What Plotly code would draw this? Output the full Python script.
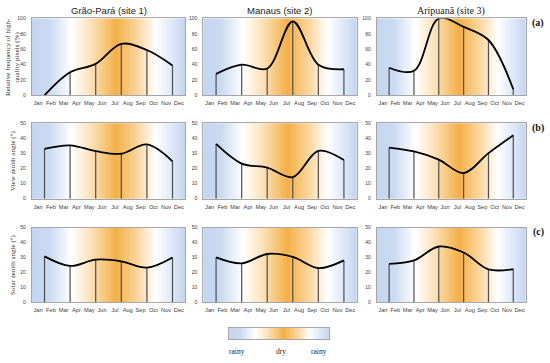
import numpy as np
import plotly.graph_objects as go

# ---------------- data ----------------
months = ["Jan", "Feb", "Mar", "Apr", "May", "Jun", "Jul", "Aug", "Sep", "Oct", "Nov", "Dec"]
acq_x = [0.5, 2.5, 4.5, 6.5, 8.5, 10.5]          # acquisition positions on the month axis
site_names = ["Grão-Pará (site 1)", "Manaus (site 2)", "Aripuanã (site 3)"]

freq_site1 = [0, 30, 41, 67, 59, 39]
freq_site2 = [28, 40, 35, 96, 40, 34]
freq_site3 = [36, 32, 100, 89, 72, 8]

vza_site1 = [33, 35.4, 31.5, 29.8, 36, 24.8]
vza_site2 = [36.3, 23.3, 20.6, 14.3, 31.7, 25.6]
vza_site3 = [33.9, 31.3, 25.9, 17, 30.2, 42]

sza_site1 = [30.7, 24.3, 28.5, 27.4, 23.2, 30]
sza_site2 = [30, 26, 32.3, 30.3, 22.8, 28]
sza_site3 = [25.7, 28, 37.3, 33.3, 22, 22.2]

row_titles = ["Relative frequency of high-<br>quality pixels (%)", "View zenith angle (°)", "Solar zenith angle (°)"]
row_tags = ["(a)", "(b)", "(c)"]
row_max = [100, 50, 50]
row_dtick = [20, 10, 10]
season_labels = ["rainy", "dry", "rainy"]

rows = [
    [freq_site1, freq_site2, freq_site3],
    [vza_site1, vza_site2, vza_site3],
    [sza_site1, sza_site2, sza_site3],
]

# ---------------- layout geometry ----------------
W, H = 550, 363
col_px = [(31.7, 185.3), (203.3, 356.7), (376.7, 525.7)]
row_px = [(15.7, 94.0), (122.3, 199.0), (228.3, 304.3)]

def xdom(p):
    return [p[0] / W, p[1] / W]

def ydom(p):
    return [1 - p[1] / H, 1 - p[0] / H]

# season gradient colourscale (position along month axis -> colour)
x0, x1 = -0.5, 11.5
stops = [
    (-0.5, "rgb(196,213,240)"),
    (0.9, "rgb(202,218,242)"),
    (2.6, "rgb(255,255,255)"),
    (4.2, "rgb(251,224,182)"),
    (6.1, "rgb(244,176,72)"),
    (7.8, "rgb(250,214,160)"),
    (9.2, "rgb(255,255,255)"),
    (11.5, "rgb(196,213,240)"),
]
cscale = [[(s - x0) / (x1 - x0), c] for s, c in stops]
grid = np.linspace(x0, x1, 241)

fig = go.Figure()
BORDER = "#a6a6a6"
tick_font = dict(family="Liberation Sans", size=5.7, color="#404040")

k = 0
for r in range(3):
    for c in range(3):
        k += 1
        xa = "x" if k == 1 else f"x{k}"
        ya = "y" if k == 1 else f"y{k}"
        vals = rows[r][c]
        ymax = row_max[r]
        # background gradient
        fig.add_trace(go.Heatmap(
            x=grid, y=[0, ymax], z=[grid, grid], colorscale=cscale,
            zmin=x0, zmax=x1, showscale=False, hoverinfo="skip",
            xaxis=xa, yaxis=ya))
        # drop lines
        lx, ly = [], []
        for xv, yv in zip(acq_x, vals):
            lx += [xv, xv, None]
            ly += [0, yv, None]
        fig.add_trace(go.Scatter(x=lx, y=ly, mode="lines",
                                 line=dict(color="#4d4d4d", width=1.2),
                                 hoverinfo="skip", showlegend=False,
                                 xaxis=xa, yaxis=ya))
        # smoothed curve
        fig.add_trace(go.Scatter(x=acq_x, y=vals, mode="lines",
                                 line=dict(color="black", width=1.8, shape="spline", smoothing=1),
                                 showlegend=False, xaxis=xa, yaxis=ya))
        xk = "xaxis" if k == 1 else f"xaxis{k}"
        yk = "yaxis" if k == 1 else f"yaxis{k}"
        fig.layout[xk] = dict(domain=xdom(col_px[c]), anchor=ya, range=[x0, x1],
                              tickvals=list(range(12)), ticktext=months, tickangle=0,
                              tickfont=tick_font, ticks="", showgrid=False, zeroline=False,
                              showline=True, linecolor=BORDER, linewidth=1, mirror=True,
                              ticklabelstandoff=2)
        fig.layout[yk] = dict(domain=ydom(row_px[r]), anchor=xa, range=[0, ymax],
                              dtick=row_dtick[r], tick0=0,
                              tickfont=dict(family="Liberation Sans", size=5, color="#404040"),
                              ticks="", showgrid=False, zeroline=False,
                              showline=True, linecolor=BORDER, linewidth=1, mirror=True,
                              ticklabelstandoff=4)

# legend gradient bar
lg_x = (229, 329)
lg_y = (330, 342)
fig.add_trace(go.Heatmap(x=grid, y=[0, 1], z=[grid, grid], colorscale=cscale,
                         zmin=x0, zmax=x1, showscale=False, hoverinfo="skip",
                         xaxis="x10", yaxis="y10"))
fig.layout["xaxis10"] = dict(domain=xdom(lg_x), anchor="y10", range=[x0, x1],
                             showticklabels=False, ticks="", showgrid=False, zeroline=False,
                             showline=True, linecolor=BORDER, mirror=True)
fig.layout["yaxis10"] = dict(domain=ydom(lg_y), anchor="x10", range=[0, 1],
                             showticklabels=False, ticks="", showgrid=False, zeroline=False,
                             showline=True, linecolor=BORDER, mirror=True)

ann = []
# column titles
title_fonts = [dict(family="Liberation Sans", size=9.5, color="#222"),
               dict(family="Liberation Sans", size=9.5, color="#222"),
               dict(family="Liberation Serif", size=10, color="#222")]
for c in range(3):
    ann.append(dict(text=site_names[c], x=(col_px[c][0] + col_px[c][1]) / 2 / W, y=1 - 8 / H,
                    xref="paper", yref="paper", showarrow=False, font=title_fonts[c],
                    xanchor="center", yanchor="middle"))
# row titles and tags
for r in range(3):
    yc = 1 - (row_px[r][0] + row_px[r][1]) / 2 / H
    ann.append(dict(text=row_titles[r], x=13 / W, y=yc, xref="paper", yref="paper",
                    showarrow=False, textangle=-90, xanchor="center", yanchor="middle",
                    font=dict(family="Liberation Serif", size=7, color="#333")))
    ann.append(dict(text="<b>" + row_tags[r] + "</b>", x=538 / W,
                    y=1 - (row_px[r][0] + 5) / H, xref="paper", yref="paper",
                    showarrow=False, xanchor="center", yanchor="middle",
                    font=dict(family="Liberation Serif", size=10, color="#111")))
# legend labels
for lab, px in zip(season_labels, [237, 281, 319]):
    ann.append(dict(text=lab, x=px / W, y=1 - 354 / H, xref="paper", yref="paper",
                    showarrow=False, xanchor="center", yanchor="middle",
                    font=dict(family="Liberation Serif", size=7.5, color="#222222")))

fig.update_layout(width=W, height=H, margin=dict(l=0, r=0, t=0, b=0),
                  paper_bgcolor="white", plot_bgcolor="white",
                  showlegend=False, annotations=ann)

fig.write_html("out.html", config={"displayModeBar": False},
               post_script="document.body.style.margin='0';document.body.style.overflow='hidden';")
